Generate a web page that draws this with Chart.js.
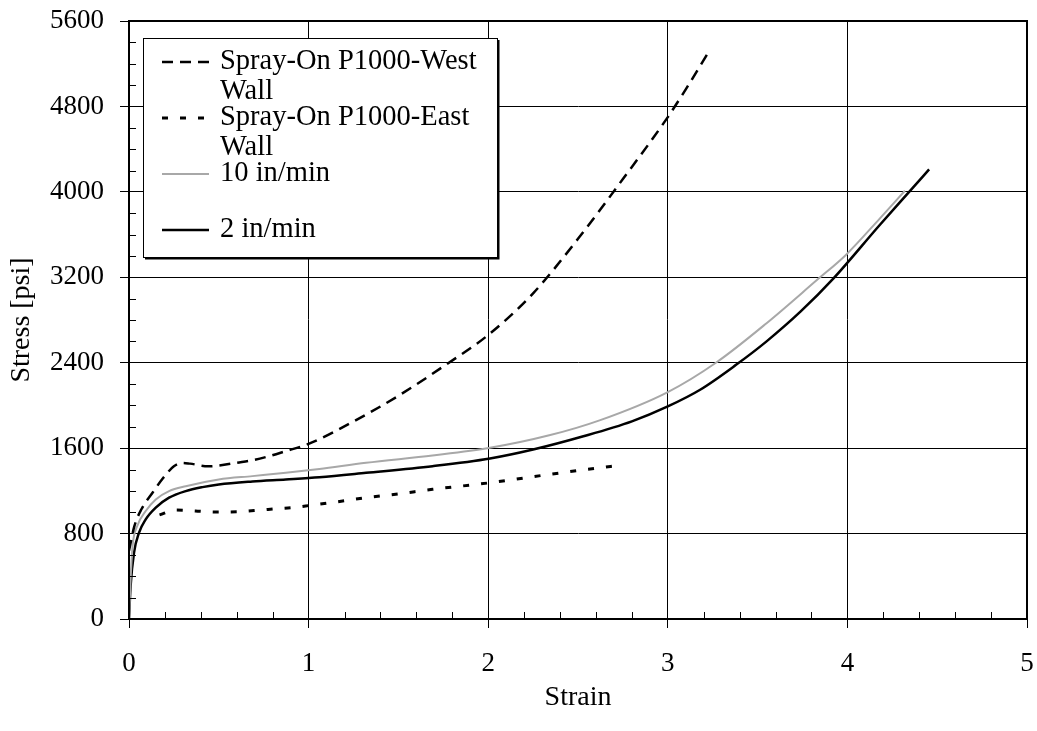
<!DOCTYPE html>
<html>
<head>
<meta charset="utf-8">
<script src="https://cdn.jsdelivr.net/npm/chart.js@4.4.0/dist/chart.umd.min.js"></script>
<style>
  html, body { margin: 0; padding: 0; background: #fff; }
  canvas { display: block; }
</style>
</head>
<body>
<canvas id="chart" width="1037" height="731"></canvas>
<script>
// Spray-On P1000, west wall
const westStrain = [0, 0.03, 0.07, 0.13, 0.19, 0.25, 0.30, 0.34, 0.44, 0.50, 0.60, 0.69, 0.78, 0.87, 1.0, 1.25, 1.5, 1.75, 2.0, 2.25, 2.5, 2.75, 3.0, 3.1, 3.22];
const westStress = [640, 870, 1030, 1180, 1320, 1430, 1462, 1455, 1430, 1437, 1463, 1487, 1525, 1571, 1640, 1850, 2090, 2365, 2660, 3050, 3560, 4120, 4700, 4960, 5290];

// Spray-On P1000, east wall
const eastStrain = [0.17, 0.26, 0.37, 0.48, 0.61, 0.73, 0.82, 0.92, 1.01, 1.15, 1.32, 1.50, 1.69, 2.01, 2.34, 2.62, 2.72];
const eastStress = [975, 1020, 1011, 1002, 1005, 1020, 1033, 1045, 1064, 1095, 1136, 1172, 1214, 1276, 1354, 1416, 1437];

// 10 in/min
const fastStrain = [0, 0.009, 0.02, 0.046, 0.093, 0.149, 0.223, 0.316, 0.5, 0.687, 0.873, 1.06, 1.32, 1.69, 2.01, 2.34, 2.62, 3.0, 3.27, 3.55, 3.83, 3.99, 4.18, 4.32];
const fastStress = [0, 373, 684, 871, 1011, 1120, 1198, 1244, 1307, 1338, 1369, 1405, 1463, 1531, 1603, 1720, 1860, 2125, 2402, 2770, 3174, 3407, 3750, 4010];

// 2 in/min
const slowStrain = [0, 0.009, 0.028, 0.056, 0.093, 0.149, 0.223, 0.316, 0.409, 0.5, 0.687, 0.873, 1.06, 1.32, 1.69, 2.01, 2.25, 2.53, 2.80, 3.0, 3.18, 3.38, 3.55, 3.74, 3.92, 4.18, 4.36, 4.455];
const slowStress = [0, 311, 622, 809, 933, 1043, 1136, 1198, 1235, 1260, 1288, 1307, 1328, 1369, 1431, 1503, 1587, 1711, 1851, 1991, 2147, 2380, 2600, 2880, 3185, 3690, 4030, 4210];

const seriesNames = ['Spray-On P1000-West Wall', 'Spray-On P1000-East Wall', '10 in/min', '2 in/min'];

const xMin = 0, xMax = 5, xStep = 1, xMinorStep = 0.2;
const yMin = 0, yMax = 5600, yStep = 800, yMinorStep = 200;

const FONT = '"Liberation Serif", "Times New Roman", serif';

const toPoints = (xs, ys) => xs.map((x, i) => ({ x, y: ys[i] }));

const minorTicks = {
  id: 'minorTicks',
  afterDatasetsDraw(chart) {
    const { ctx, chartArea, scales: { x, y } } = chart;
    ctx.save();
    ctx.strokeStyle = '#000';
    ctx.lineWidth = 1;
    ctx.beginPath();
    for (let v = yMin + yMinorStep; v < yMax; v += yMinorStep) {
      if (v % yStep === 0) continue;
      const py = Math.round(y.getPixelForValue(v)) + 0.5;
      ctx.moveTo(chartArea.left, py);
      ctx.lineTo(chartArea.left + 7, py);
    }
    const n = Math.round((xMax - xMin) / xMinorStep);
    for (let i = 1; i < n; i += 1) {
      if (i % 5 === 0) continue;
      const px = Math.round(x.getPixelForValue(xMin + i * xMinorStep)) + 0.5;
      ctx.moveTo(px, chartArea.bottom);
      ctx.lineTo(px, chartArea.bottom - 7);
    }
    ctx.stroke();
    // plot frame
    ctx.lineWidth = 2;
    ctx.strokeRect(chartArea.left, chartArea.top, chartArea.right - chartArea.left, chartArea.bottom - chartArea.top);
    ctx.restore();
  },
};

const boxLegend = {
  id: 'boxLegend',
  afterDatasetsDraw(chart) {
    const { ctx, chartArea } = chart;
    const left = chartArea.left + 14;
    const top = chartArea.top + 17;
    const width = 354;
    const height = 219;
    ctx.save();
    ctx.fillStyle = '#fff';
    ctx.fillRect(left, top, width, height);
    ctx.strokeStyle = '#000';
    ctx.lineWidth = 1;
    ctx.strokeRect(left + 0.5, top + 0.5, width, height);
    ctx.lineWidth = 2;
    ctx.beginPath();
    ctx.moveTo(left + width + 1.5, top + 2);
    ctx.lineTo(left + width + 1.5, top + height + 1.5);
    ctx.lineTo(left + 2, top + height + 1.5);
    ctx.stroke();

    ctx.font = '28.5px ' + FONT;
    ctx.textBaseline = 'middle';
    ctx.textAlign = 'left';
    chart.data.datasets.forEach((ds, i) => {
      const rowY = top + 24 + i * 56;
      ctx.save();
      ctx.strokeStyle = ds.borderColor;
      ctx.lineWidth = ds.borderWidth;
      ctx.setLineDash(ds.borderDash || []);
      ctx.beginPath();
      ctx.moveTo(left + 19, rowY);
      ctx.lineTo(left + 66, rowY);
      ctx.stroke();
      ctx.restore();

      // wrap label words into lines
      const words = ds.label.split(' ');
      const lines = [];
      let line = '';
      words.forEach((w) => {
        const test = line ? line + ' ' + w : w;
        if (line && ctx.measureText(test).width > 270) {
          lines.push(line);
          line = w;
        } else {
          line = test;
        }
      });
      lines.push(line);
      ctx.fillStyle = '#000';
      lines.forEach((l, k) => ctx.fillText(l, left + 77, rowY + k * 30));
    });
    ctx.restore();
  },
};

new Chart(document.getElementById('chart'), {
  type: 'line',
  data: {
    datasets: [
      {
        label: seriesNames[0],
        data: toPoints(westStrain, westStress),
        borderColor: '#000',
        borderWidth: 2.5,
        borderDash: [11, 7],
      },
      {
        label: seriesNames[1],
        data: toPoints(eastStrain, eastStress),
        borderColor: '#000',
        borderWidth: 3,
        borderDash: [6, 12],
      },
      {
        label: seriesNames[2],
        data: toPoints(fastStrain, fastStress),
        borderColor: '#a8a8a8',
        borderWidth: 2,
      },
      {
        label: seriesNames[3],
        data: toPoints(slowStrain, slowStress),
        borderColor: '#000',
        borderWidth: 2.5,
      },
    ],
  },
  options: {
    responsive: false,
    animation: false,
    cubicInterpolationMode: 'monotone',
    layout: { padding: { top: 21, right: 10, left: 0, bottom: 0 } },
    elements: { point: { radius: 0 } },
    plugins: {
      legend: { display: false },
      tooltip: { enabled: false },
    },
    scales: {
      x: {
        type: 'linear',
        min: xMin,
        max: xMax,
        afterFit: (scale) => {
          scale.height = 112;
          scale.paddingLeft = 0;
          scale.paddingRight = 0;
        },
        ticks: {
          stepSize: xStep,
          color: '#000',
          padding: 20,
          maxRotation: 0,
          font: { family: FONT, size: 27 },
          callback: (v) => String(v),
        },
        grid: { color: '#000', lineWidth: 1, tickLength: 9 },
        border: { display: true, color: '#000', width: 2 },
        title: {
          display: true,
          text: 'Strain',
          color: '#000',
          font: { family: FONT, size: 28 },
          padding: { top: 4, bottom: 17 },
        },
      },
      y: {
        type: 'linear',
        min: yMin,
        max: yMax,
        afterFit: (scale) => {
          scale.width = 129;
          scale.paddingTop = 0;
          scale.paddingBottom = 0;
        },
        ticks: {
          stepSize: yStep,
          color: '#000',
          padding: 16,
          font: { family: FONT, size: 27 },
          callback: (v) => String(v),
        },
        grid: { color: '#000', lineWidth: 1, tickLength: 9 },
        border: { display: true, color: '#000', width: 2 },
        title: {
          display: true,
          text: 'Stress [psi]',
          color: '#000',
          font: { family: FONT, size: 28 },
          padding: { top: 5, bottom: 0 },
        },
      },
    },
  },
  plugins: [minorTicks, boxLegend],
});
</script>
</body>
</html>
